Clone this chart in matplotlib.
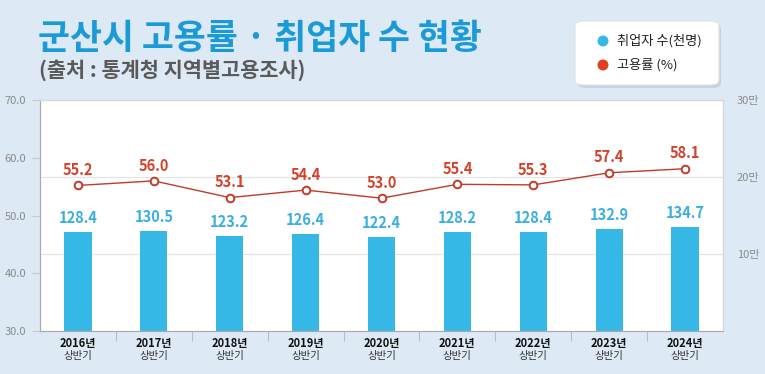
import matplotlib
matplotlib.use("Agg")
import matplotlib.pyplot as plt
from matplotlib.patches import FancyBboxPatch, Ellipse
import numpy as np

plt.rcParams['font.family'] = ['Noto Sans CJK KR', 'DejaVu Sans']

years = ["2016년", "2017년", "2018년", "2019년", "2020년", "2021년", "2022년", "2023년", "2024년"]
half = "상반기"
employed = [128.4, 130.5, 123.2, 126.4, 122.4, 128.2, 128.4, 132.9, 134.7]   # 천명
rate = [55.2, 56.0, 53.1, 54.4, 53.0, 55.4, 55.3, 57.4, 58.1]                # %
left_ticks = [30.0, 40.0, 50.0, 60.0, 70.0]
right_ticks = [10, 20, 30]
right_labels = ["10만", "20만", "30만"]

BG = "#DDEAF5"
BAR = "#36B8E6"
BARTXT = "#3AAFDF"
RED = "#C23A28"
REDTXT = "#D2422A"
TITLE = "#1B9AD8"

fig = plt.figure(figsize=(7.65, 3.74), dpi=100, facecolor=BG)
W, H = 765, 374
ax = fig.add_axes([40 / W, 1 - 331 / H, (723 - 40) / W, (331 - 100) / H])
ax2 = ax.twinx()
ax.set_zorder(ax2.get_zorder() + 1)
ax.patch.set_visible(False)
ax2.patch.set_visible(True)
ax2.patch.set_facecolor("white")

x = np.arange(len(years))

# bars on right axis (unit: 만)
ax2.bar(x, np.array(employed) / 10.0, width=0.36, color=BAR, zorder=2)
ax2.set_ylim(0, 30)
ax2.set_yticks(right_ticks)
ax2.set_yticklabels(right_labels)
ax2.yaxis.grid(True, color="#E4E4E4", linewidth=0.8, zorder=0)
ax2.set_axisbelow(True)
for xi, v in zip(x, employed):
    ax2.annotate(f"{v:.1f}", (xi, v / 10.0), xytext=(0, 10), textcoords="offset points",
                 ha="center", va="center", color=BARTXT, fontsize=10.5, fontweight="bold")

# line on left axis
ax.plot(x, rate, color=RED, linewidth=1.0, marker="o", markersize=5.5,
        markerfacecolor="white", markeredgecolor=RED, markeredgewidth=1.4, zorder=5)
for xi, v in zip(x, rate):
    ax.annotate(f"{v:.1f}", (xi, v), xytext=(0, 11), textcoords="offset points",
                ha="center", va="center", color=REDTXT, fontsize=10.5, fontweight="bold")
ax.set_ylim(30, 70)
ax.set_yticks(left_ticks)
ax.set_yticklabels([f"{t:.1f}" for t in left_ticks])
ax.set_xlim(-0.5, len(years) - 0.5)

# x tick labels as two-line text
ax.set_xticks(x)
ax.set_xticklabels([])
ax.tick_params(axis="x", length=0)
for xi, y in zip(x, years):
    ax.text(xi, -0.025, y, transform=ax.get_xaxis_transform(), ha="center", va="top",
            fontsize=8, fontweight="bold", color="#111111")
    ax.text(xi, -0.085, half, transform=ax.get_xaxis_transform(), ha="center", va="top",
            fontsize=7.5, color="#333333")
ax.set_xticks(np.arange(0.5, len(years) - 1, 1.0), minor=True)
ax.tick_params(axis="x", which="minor", length=7, color="#BBBBBB", width=0.8)

ax.tick_params(axis="y", labelsize=8, labelcolor="#8A8A8A", color="#C8C8C8", length=6, width=0.8, pad=4)
ax2.tick_params(axis="y", labelsize=8, labelcolor="#8A8A8A", length=0, pad=10)

for a in (ax, ax2):
    for s in a.spines.values():
        s.set_color("#D6D6D6")
        s.set_linewidth(0.8)
ax.spines["left"].set_color("#AAAAAA")
ax.spines["bottom"].set_color("#AAAAAA")

# title & subtitle
fig.text(38 / W, 1 - 38 / H, "군산시 고용률 · 취업자 수 현황", fontsize=25, fontweight="bold",
         color=TITLE, ha="left", va="center")
fig.text(39 / W, 1 - 70 / H, "(출처 : 통계청 지역별고용조사)", fontsize=15, fontweight="bold",
         color="#5A5A5A", ha="left", va="center")

# legend box
shadow = FancyBboxPatch((578 / W, 1 - 88 / H), (143) / W, (64) / H,
                        boxstyle="round,pad=0,rounding_size=0.012", transform=fig.transFigure,
                        facecolor="#B8C4CE", edgecolor="none", alpha=0.6, zorder=1)
fig.patches.append(shadow)
box = FancyBboxPatch((575 / W, 1 - 85 / H), (144) / W, (64) / H,
                     boxstyle="round,pad=0,rounding_size=0.012", transform=fig.transFigure,
                     facecolor="white", edgecolor="#E2E2E2", linewidth=0.8, zorder=2)
fig.patches.append(box)
for yy, col, lab in [(41, BAR, "취업자 수(천명)"), (65, "#E0401E", "고용률 (%)")]:
    fig.patches.append(Ellipse((603 / W, 1 - yy / H), 11 / W, 11 / H, transform=fig.transFigure,
                               facecolor=col, edgecolor="none", zorder=3))
    fig.text(617 / W, 1 - yy / H, lab, fontsize=9.5, fontweight="medium", color="#222222",
             ha="left", va="center", zorder=4)

fig.savefig("out.png", dpi=100, facecolor=BG)
